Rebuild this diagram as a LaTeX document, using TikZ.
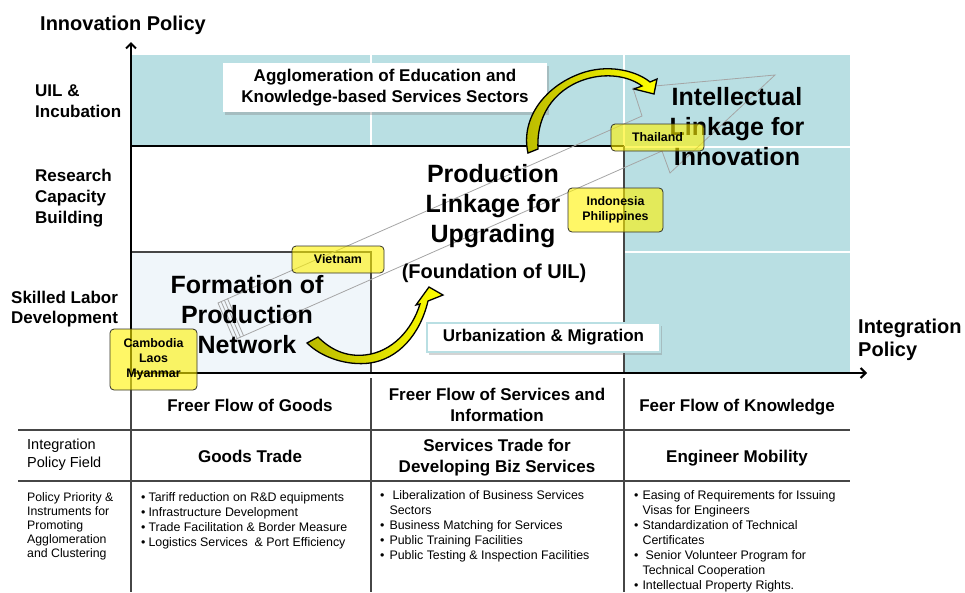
\documentclass[tikz,border=0pt]{standalone}
\usepackage{fontspec}
\setmainfont{Liberation Sans}
\usetikzlibrary{arrows.meta,shadows}

\definecolor{cellteal}{RGB}{185,223,227}
\definecolor{lightcell}{RGB}{240,246,250}
\definecolor{gridgray}{RGB}{70,70,70}
\definecolor{ziggray}{RGB}{165,165,165}
\definecolor{tagedge}{RGB}{50,50,40}
\definecolor{arrowolive}{RGB}{185,185,0}

\newcommand\fBig{\fontsize{25}{30}\selectfont\bfseries}
\newcommand\fMid{\fontsize{20}{24}\selectfont\bfseries}
\newcommand\fAxis{\fontsize{20}{23}\selectfont\bfseries}
\newcommand\fRow{\fontsize{17}{21}\selectfont\bfseries}
\newcommand\fHead{\fontsize{17}{20.5}\selectfont\bfseries}
\newcommand\fTag{\fontsize{12.4}{15}\selectfont\bfseries}
\newcommand\fField{\fontsize{14.5}{18}\selectfont}
\newcommand\fBody{\fontsize{12.4}{15}\selectfont}
\newcommand\fSmall{\fontsize{12.3}{14.1}\selectfont}

\tikzset{
  axisline/.style={line width=2pt, -{Straight Barb[length=5pt,width=10pt]}},
  rule/.style={draw=gridgray, line width=1.2pt},
  cellsep/.style={draw=white, line width=1.6pt},
  zig/.style={draw=ziggray, line width=0.8pt},
  bigtext/.style={font=\fBig, align=center, inner sep=0pt},
  rowlabel/.style={font=\fRow, align=left, anchor=west, inner sep=0pt},
  notebox/.style={fill=white, align=center, inner sep=0pt, font=\fRow,
    drop shadow={shadow xshift=2pt, shadow yshift=-3pt, opacity=0.35}},
  tag/.style={draw=tagedge, line width=0.8pt, rounded corners=4pt, fill=yellow,
    fill opacity=0.6, text opacity=1, align=center, inner sep=0pt, font=\fTag},
  curvearrow/.style={draw=black, line width=1.3pt, left color=arrowolive, right color=yellow},
  colhead/.style={font=\fHead, align=center, inner sep=0pt},
  bodytext/.style={font=\fBody, inner sep=0pt, anchor=north west},
}

\begin{document}
\begin{tikzpicture}[x=1pt,y=-1pt]
\useasboundingbox (0,0) rectangle (965,592);

% shaded cells of the matrix
\fill[cellteal] (131,55) rectangle (850,146);
\fill[cellteal] (624,146) rectangle (850,372);
\fill[lightcell] (131,252) rectangle (371,372);
\draw[cellsep] (371,55) -- (371,146);
\draw[cellsep] (624,55) -- (624,146);
\draw[cellsep] (624,147) -- (850,147);
\draw[cellsep] (624,252) -- (850,252);

% matrix rules
\draw[black, line width=1.2pt] (131,146) -- (624,146);
\draw[rule] (624,146) -- (624,372);
\draw[rule] (131,252) -- (371,252) -- (371,372);

% table rules
\draw[rule] (18,430) -- (850,430);
\draw[rule] (18,481) -- (850,481);
\draw[rule] (131,373) -- (131,592);
\draw[rule] (371,378) -- (371,592);
\draw[rule] (624,378) -- (624,592);

% axes
\coordinate (origin) at (131,373);
\coordinate (ytip) at (131,42);
\coordinate (xtip) at (867,373);
\draw[axisline] (origin) -- (ytip);
\draw[axisline] (origin) -- (xtip);

% outlined zigzag arrow across the matrix
\draw[zig] (218,303) -- (642,116) -- (633,88) -- (775,75) -- (670,173) -- (662,151) -- (234,340) -- cycle;
\foreach \k in {1,2,3}
  \draw[zig, shift={(\k*3.2,-\k*1.4)}] (218,303) -- (234,340);

% white note boxes
\node[notebox, minimum width=324pt, minimum height=49pt] (agg) at (385,87.5)
  {Agglomeration of Education and\\Knowledge-based Services Sectors};
\node[notebox, draw=cellteal, line width=1.6pt, minimum width=233pt, minimum height=29pt] (urb)
  at (543.5,337.5) {Urbanization \& Migration};

% stage titles
\node[bigtext] (ili) at (737,127) {Intellectual\\Linkage for\\Innovation};
\node[bigtext] (plu) at (493,206.5) {Production\\Linkage for\\Upgrading};
\node[font=\fMid, inner sep=0pt] (fou) at (494,273) {(Foundation of UIL)};
\node[bigtext] (fpn) at (247,315) {Formation of\\Production\\Network};

% axis titles
\node[font=\fAxis, anchor=base west, inner sep=0pt] (ip) at (40,30) {Innovation Policy};
\node[font=\fAxis, align=left, anchor=west, inner sep=0pt] (igp) at (858,340.3) {Integration\\Policy};

% row titles
\node[rowlabel] (r1) at (35,101) {UIL \&\\Incubation};
\node[rowlabel] (r2) at (35,198.6) {Research\\Capacity\\Building};
\node[rowlabel, font=\fontsize{17}{20}\selectfont\bfseries] (r3) at (11,308.6) {Skilled Labor\\Development};

% table: flows
\node[colhead, anchor=base] (f1) at (250,411) {Freer Flow of Goods};
\node[colhead] (f2) at (497,404.8) {Freer Flow of Services and\\Information};
\node[colhead, anchor=base] (f3) at (737,411) {Feer Flow of Knowledge};

% table: policy fields
\node[font=\fField, align=left, anchor=west, inner sep=0pt] (pf) at (27,454.3) {Integration\\Policy Field};
\node[colhead, anchor=base] (p1) at (250,462) {Goods Trade};
\node[colhead, font=\fontsize{17}{21}\selectfont\bfseries] (p2) at (497,458) {Services Trade for\\Developing Biz Services};
\node[colhead, anchor=base] (p3) at (737,462) {Engineer Mobility};

% table: instruments
\node[bodytext, font=\fSmall, align=left] (pi) at (27,492.4)
  {Policy Priority \&\\Instruments for\\Promoting\\Agglomeration\\and Clustering};
\node[bodytext] (g1) at (141,491) {\begin{tabular}{@{}l@{\hspace{3pt}}l@{}}
• & Tariff reduction on R\&D equipments\\
• & Infrastructure Development\\
• & Trade Facilitation \& Border Measure\\
• & Logistics Services\ \ \& Port Efficiency
\end{tabular}};
\node[bodytext] (g2) at (380,489) {\begin{tabular}{@{}l@{\hspace{5pt}}l@{}}
• & \hspace{3pt}Liberalization of Business Services\\
  & Sectors\\
• & Business Matching for Services\\
• & Public Training Facilities\\
• & Public Testing \& Inspection Facilities
\end{tabular}};
\node[bodytext] (g3) at (634,489) {\begin{tabular}{@{}l@{\hspace{4pt}}l@{}}
• & Easing of Requirements for Issuing\\
  & Visas for Engineers\\
• & Standardization of Technical\\
  & Certificates\\
• & \hspace{3pt}Senior Volunteer Program for\\
  & Technical Cooperation\\
• & Intellectual Property Rights.
\end{tabular}};

% curved yellow arrows
\path[curvearrow] (307,343) .. controls (322,358) and (348,366) .. (370,363)
  .. controls (398,359) and (420,335) .. (428,301)
  -- (443,295) -- (429,287) -- (416,305) -- (420,304)
  .. controls (412,330) and (392,352) .. (365,355)
  .. controls (345,357) and (330,349) .. (318,337) -- cycle;
\path[curvearrow] (528,153) .. controls (520,118) and (546,84) .. (585,72)
  .. controls (612,64) and (638,72) .. (650,82)
  -- (657,79) -- (654,94) -- (634,89) -- (642,86)
  .. controls (630,77) and (610,73) .. (590,78)
  .. controls (558,86) and (536,112) .. (538,149) -- cycle;

% country tags
\node[tag, minimum width=92pt, minimum height=27pt] (vn) at (338,259.5) {Vietnam};
\node[tag, minimum width=93pt, minimum height=27pt] (th) at (657.5,137.5) {Thailand};
\node[tag, minimum width=95pt, minimum height=44pt] (idph) at (615.5,210) {Indonesia\\Philippines};
\node[tag, minimum width=87pt, minimum height=61pt] (clm) at (153.5,359.5) {Cambodia\\Laos\\Myanmar};

\end{tikzpicture}
\end{document}
